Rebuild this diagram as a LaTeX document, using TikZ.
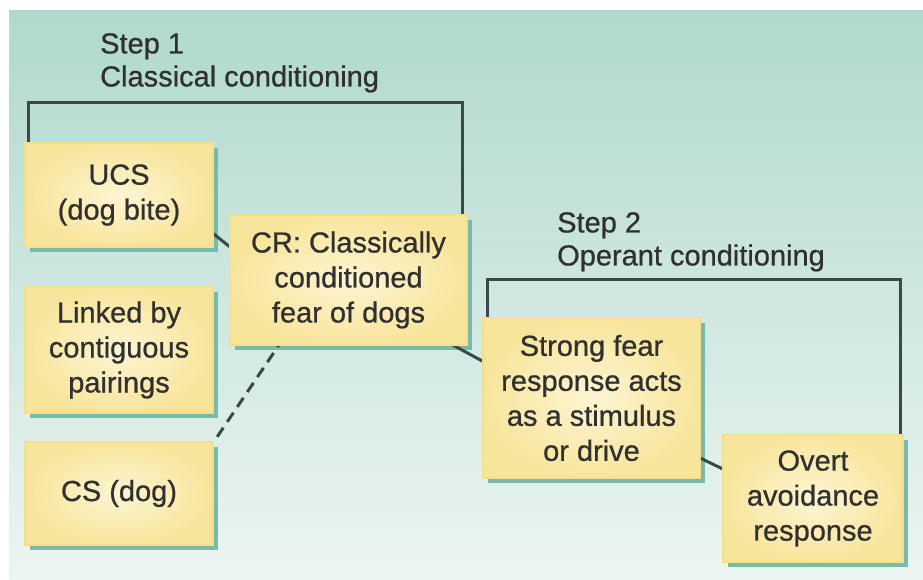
\documentclass[tikz,border=0pt]{standalone}
\usepackage{fontspec}
\setmainfont{Liberation Sans}
\newfontfamily\heavyfont{Liberation Sans}[FakeBold=0.7]
\usetikzlibrary{calc}
\definecolor{bgtop}{HTML}{B0D9CD}
\definecolor{bgbot}{HTML}{ECF5F2}
\definecolor{boxin}{HTML}{FDF5D2}
\definecolor{boxout}{HTML}{F8E59C}
\definecolor{boxedge}{HTML}{F4DF8C}
\definecolor{shadowc}{HTML}{78BBAD}
\definecolor{linec}{HTML}{3B4848}
\definecolor{txt}{HTML}{303030}
\begin{document}
\begin{tikzpicture}[x=1pt,y=-1pt,
  yellowbox/.style={rectangle, inner sep=0pt, align=center, text=txt,
    draw=boxedge, line width=1.5pt, inner color=boxin, outer color=boxout,
    font=\heavyfont\fontsize{29pt}{35pt}\selectfont},
  boxshadow/.style={fill=shadowc, draw=none},
  bracket/.style={draw=linec, line width=3pt},
  link/.style={draw=linec, line width=3pt},
  steplabel/.style={anchor=north west, inner sep=0pt, align=left, text=txt,
    font=\heavyfont\fontsize{29pt}{33pt}\selectfont}]
% canvas and background
\useasboundingbox (0,0) rectangle (923,580);
\fill[white] (0,0) rectangle (923,580);
\shade[top color=bgtop, bottom color=bgbot] (9,11) rectangle (923,580);
% shadows
\fill[boxshadow] (30,148) rectangle (218,252);
\fill[boxshadow] (235,220) rectangle (472,350);
\fill[boxshadow] (30,292) rectangle (218,418);
\fill[boxshadow] (30,447) rectangle (218,550);
\fill[boxshadow] (488,323) rectangle (705,483);
\fill[boxshadow] (728,440) rectangle (908,567);
% named coordinates of the boxes (centres)
\coordinate (pucs) at (119,195);
\coordinate (pcr) at (348.5,280);
\coordinate (plink) at (119,350);
\coordinate (pcs) at (119,493.5);
\coordinate (pstrong) at (591.5,398);
\coordinate (povert) at (813,498.5);
% invisible placeholders to compute anchors for connectors
\path (pucs) node[minimum width=188pt, minimum height=104pt, inner sep=0pt] (ucsA) {};
\path (pcr) node[minimum width=237pt, minimum height=130pt, inner sep=0pt] (crA) {};
\path (pcs) node[minimum width=188pt, minimum height=103pt, inner sep=0pt] (csA) {};
\path (pstrong) node[minimum width=217pt, minimum height=160pt, inner sep=0pt] (strongA) {};
\path (povert) node[minimum width=180pt, minimum height=127pt, inner sep=0pt] (overtA) {};
% brackets
\draw[bracket] ([xshift=4pt]ucsA.north west) -- ++(0,-40) -| ([xshift=-5pt]crA.north east);
\draw[bracket] ([xshift=5pt]strongA.north west) -- ++(0,-38) -| ([xshift=-3pt]overtA.north east);
% connectors
\draw[link] ([shift={(-13,-24)}]ucsA.south east) -- ([shift={(10,40)}]crA.north west);
\draw[link] ([shift={(-27,-7)}]crA.south east) -- ([shift={(12,50)}]strongA.north west);
\draw[link] ([shift={(-10,-25)}]strongA.south east) -- ([shift={(12,40)}]overtA.north west);
\draw[link, dash pattern=on 11pt off 7pt] ([shift={(4,-5)}]csA.north east) -- ([shift={(49,0)}]crA.south west);
% boxes
\node[yellowbox, minimum width=188pt, minimum height=104pt] (ucs) at (pucs) {UCS\\(dog bite)};
\node[yellowbox, minimum width=237pt, minimum height=130pt] (cr) at (pcr) {CR: Classically\\conditioned\\fear of dogs};
\node[yellowbox, minimum width=188pt, minimum height=126pt] (linked) at (plink) {Linked by\\contiguous\\pairings};
\node[yellowbox, minimum width=188pt, minimum height=103pt] (cs) at (pcs) {CS (dog)};
\node[yellowbox, minimum width=217pt, minimum height=160pt] (strong) at (pstrong) {Strong fear\\response acts\\as a stimulus\\or drive};
\node[yellowbox, minimum width=180pt, minimum height=127pt] (overt) at (povert) {Overt\\avoidance\\response};
% step labels
\node[steplabel] (step1) at (100,33) {Step 1\\Classical conditioning};
\node[steplabel] (step2) at (557,212) {Step 2\\Operant conditioning};
\end{tikzpicture}
\end{document}
